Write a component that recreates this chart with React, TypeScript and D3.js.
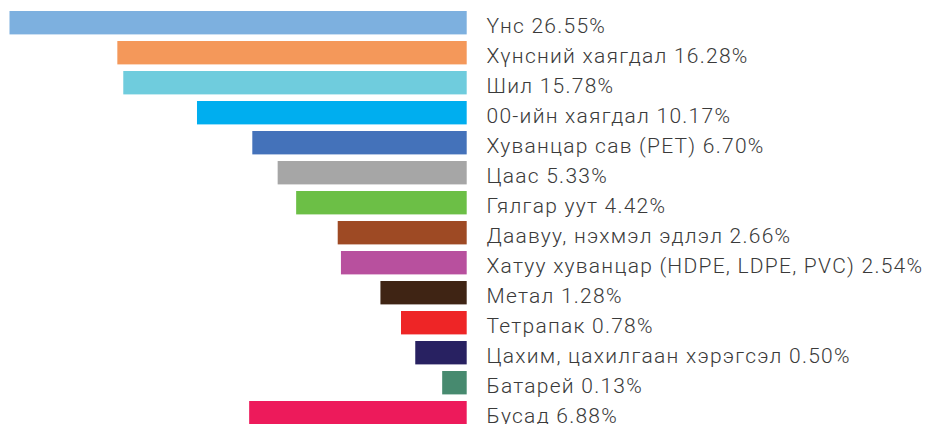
import React from "react";
import * as d3 from "d3";

const categories = [
  "Үнс",
  "Хүнсний хаягдал",
  "Шил",
  "00-ийн хаягдал",
  "Хуванцар сав (PET)",
  "Цаас",
  "Гялгар уут",
  "Даавуу, нэхмэл эдлэл",
  "Хатуу хуванцар (HDPE, LDPE, PVC)",
  "Метал",
  "Тетрапак",
  "Цахим, цахилгаан хэрэгсэл",
  "Батарей",
  "Бусад",
];

const values = [26.55, 16.28, 15.78, 10.17, 6.7, 5.33, 4.42, 2.66, 2.54, 1.28, 0.78, 0.5, 0.13, 6.88];

const colors = [
  "#7DB0DF",
  "#F4985A",
  "#6FCCDD",
  "#00AEEF",
  "#4472BA",
  "#A6A6A6",
  "#6CBF46",
  "#9E4A24",
  "#B8509E",
  "#3F2414",
  "#EE2526",
  "#282161",
  "#478A6F",
  "#ED1A5B",
];

const W = 929;
const H = 424;

export default function App() {
  const y = d3
    .scaleBand<string>()
    .domain(categories)
    .range([7.7, 427.7])
    .paddingInner(0.22)
    .paddingOuter(0.11);

  const x = d3
    .scalePow()
    .exponent(0.55)
    .domain([0, d3.max(values) as number])
    .range([466.7, 9.5]);

  return (
    <svg
      width={W}
      height={H}
      style={{ position: "absolute", left: 0, top: 0, background: "#fff" }}
    >
      {categories.map((c, i) => {
        const yy = y(c) as number;
        const bw = y.bandwidth();
        return (
          <g key={c}>
            <rect
              x={x(values[i])}
              y={yy}
              width={x(0) - x(values[i])}
              height={bw}
              fill={colors[i]}
            />
            <text
              x={486.5}
              y={yy + bw / 2}
              dy="0.5em"
              fontFamily="Roboto, 'Noto Sans', sans-serif"
              fontWeight={300}
              fontSize={21}
              letterSpacing={1.25}
              fill="#3a3a3a"
            >
              {`${c} ${values[i].toFixed(2)}%`}
            </text>
          </g>
        );
      })}
    </svg>
  );
}
